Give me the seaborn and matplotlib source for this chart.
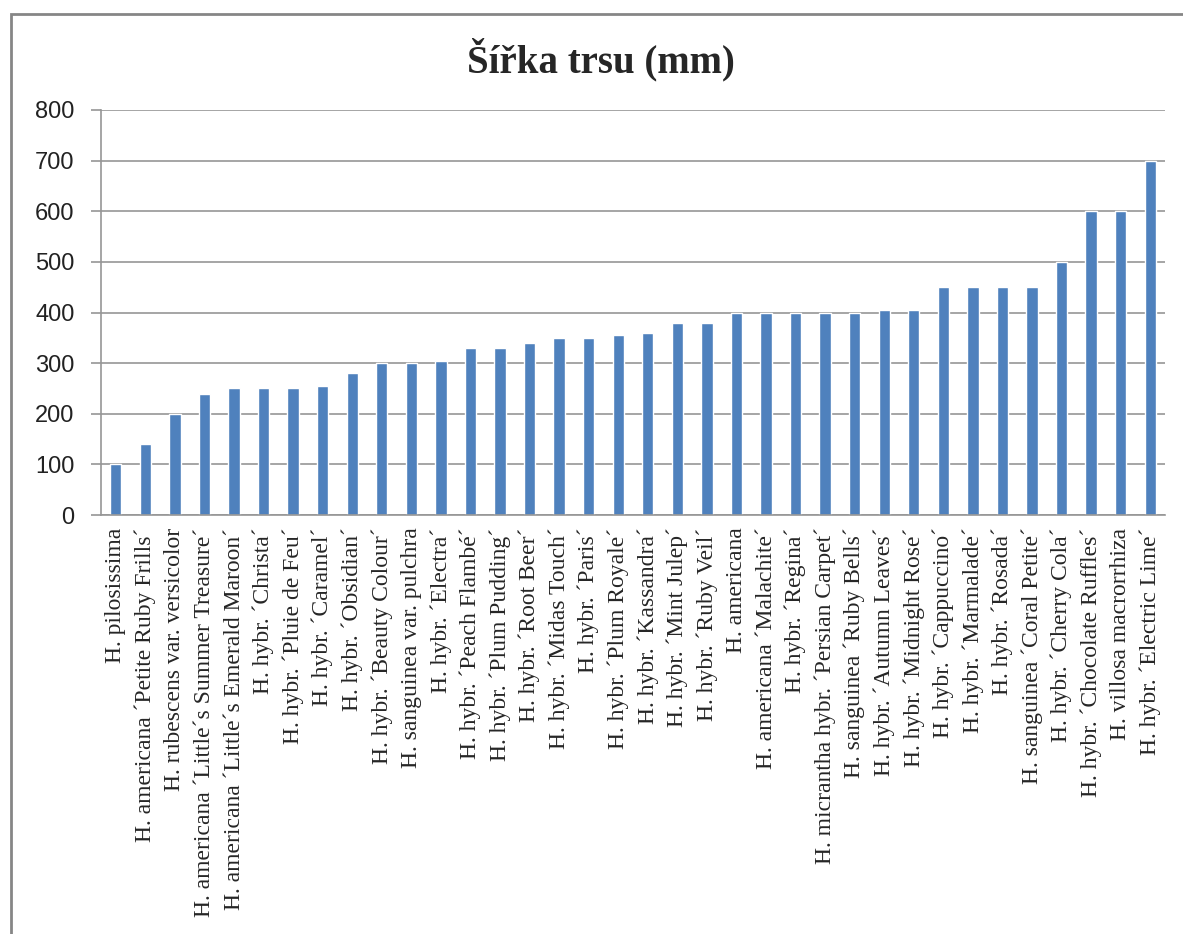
import numpy as np
import pandas as pd
import matplotlib
matplotlib.use("Agg")
import matplotlib.pyplot as plt
import seaborn as sns
from matplotlib.patches import Rectangle

# data
taxa = [
    "H. pilosissima",
    "H. americana ´Petite Ruby Frills´",
    "H. rubescens var. versicolor",
    "H. americana ´Little´s Summer Treasure´",
    "H. americana ´Little´s Emerald Maroon´",
    "H. hybr. ´Christa´",
    "H. hybr. ´Pluie de Feu´",
    "H. hybr. ´Caramel´",
    "H. hybr. ´Obsidian´",
    "H. hybr. ´Beauty Colour´",
    "H. sanguinea var. pulchra",
    "H. hybr. ´Electra´",
    "H. hybr. ´Peach Flambé´",
    "H. hybr. ´Plum Pudding´",
    "H. hybr. ´Root Beer´",
    "H. hybr. ´Midas Touch´",
    "H. hybr. ´Paris´",
    "H. hybr. ´Plum Royale´",
    "H. hybr. ´Kassandra´",
    "H. hybr. ´Mint Julep´",
    "H. hybr. ´Ruby Veil´",
    "H. americana",
    "H. americana ´Malachite´",
    "H. hybr. ´Regina´",
    "H. micrantha hybr. ´Persian Carpet´",
    "H. sanguinea ´Ruby Bells´",
    "H. hybr. ´Autumn Leaves´",
    "H. hybr. ´Midnight Rose´",
    "H. hybr. ´Cappuccino´",
    "H. hybr. ´Marmalade´",
    "H. hybr. ´Rosada´",
    "H. sanguinea ´Coral Petite´",
    "H. hybr. ´Cherry Cola´",
    "H. hybr. ´Chocolate Ruffles´",
    "H. villosa macrorrhiza",
    "H. hybr. ´Electric Lime´",
]
width_mm = [100, 140, 200, 240, 250, 250, 250, 255, 280, 300, 300, 305,
            330, 330, 340, 350, 350, 355, 360, 380, 380, 400, 400, 400,
            400, 400, 405, 405, 450, 450, 450, 450, 500, 600, 600, 700]
y_ticks = [0, 100, 200, 300, 400, 500, 600, 700, 800]

df = pd.DataFrame({"taxon": taxa, "width": width_mm})

sns.set_style("white")

fig = plt.figure(figsize=(11.83, 9.34), dpi=100)
ax = fig.add_axes([101 / 1183, 1 - 515 / 934, 1064 / 1183, 405 / 934])

sns.barplot(data=df, x="taxon", y="width", color="#4F81BD", saturation=1,
            width=0.38, ax=ax)

ax.set_ylim(0, 800)
ax.set_xlim(-0.5, len(taxa) - 0.5)
ax.set_yticks(y_ticks)
ax.set_yticklabels([str(v) for v in y_ticks], family="Liberation Sans",
                   fontsize=17, color="#222222")
ax.yaxis.grid(True, color="#969696", linewidth=1.2)
ax.set_axisbelow(True)
ax.set_xlabel("")
ax.set_ylabel("")

# category labels in the middle, tick marks on the boundaries
ax.set_xticks(range(len(taxa)))
ax.set_xticklabels(taxa, rotation=90, family="Liberation Serif", fontsize=17)
ax.set_xticks(np.arange(-0.5, len(taxa)), minor=True)
ax.tick_params(axis="x", which="major", length=0, pad=9)
ax.tick_params(axis="x", which="minor", length=6, color="#969696", width=1.2)
ax.tick_params(axis="y", length=7, color="#969696", width=1.2, left=True, pad=12)

for s in ["top", "right"]:
    ax.spines[s].set_visible(False)
for s in ["left", "bottom"]:
    ax.spines[s].set_color("#969696")
    ax.spines[s].set_linewidth(1.2)

fig.text(601 / 1183, 1 - 60 / 934, "Šířka trsu (mm)", ha="center", va="center",
         family="Liberation Serif", fontweight="bold", fontsize=28)

# chart frame
fig.patches.append(Rectangle((11 / 1183, -0.1), 1.2, 1 - 14 / 934 + 0.1,
                             transform=fig.transFigure, fill=False,
                             edgecolor="#868686", linewidth=2))

fig.savefig("out.png", dpi=100)
